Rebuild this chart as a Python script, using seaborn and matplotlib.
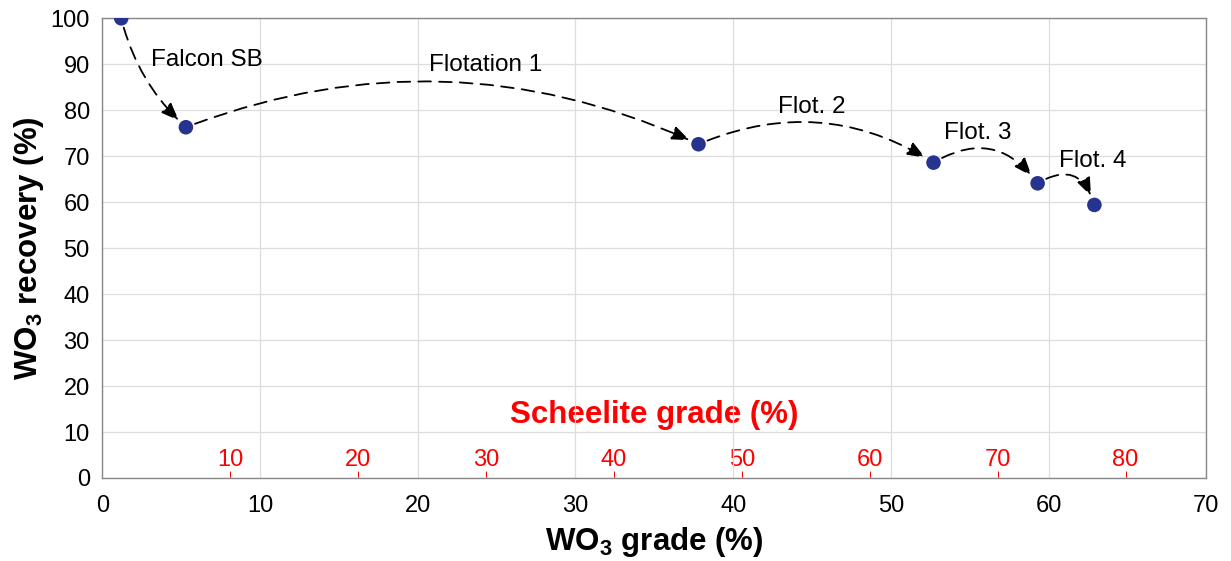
import matplotlib
matplotlib.use("Agg")
import matplotlib.pyplot as plt
import pandas as pd
import seaborn as sns

# values
stages = ["Feed", "Falcon SB", "Flotation 1", "Flot. 2", "Flot. 3", "Flot. 4"]
wo3_grade = [1.2, 5.3, 37.8, 52.7, 59.3, 62.9]
wo3_recovery = [100.0, 76.3, 72.6, 68.6, 64.1, 59.4]
scheelite_ticks = [10, 20, 30, 40, 50, 60, 70, 80]
wo3_in_scheelite = 0.811  # WO3 fraction used for the scheelite scale

df = pd.DataFrame({"stage": stages, "grade": wo3_grade, "recovery": wo3_recovery})

# text placement and arrow curvature for each step
label_xy = [(6.6, 91.0), (24.3, 89.8), (45.0, 80.7), (55.5, 75.0), (62.8, 69.0)]
arc_rad = [0.15, -0.21, -0.26, -0.45, -0.63]

sns.set_theme(style="whitegrid")
plt.rcParams["font.family"] = ["Liberation Sans", "DejaVu Sans"]
plt.rcParams["mathtext.fontset"] = "custom"
plt.rcParams["mathtext.rm"] = "Liberation Sans"
plt.rcParams["mathtext.bf"] = "Liberation Sans:bold"
plt.rcParams["text.color"] = "black"
plt.rcParams["axes.labelcolor"] = "black"

fig = plt.figure(figsize=(12.31, 5.61), dpi=100)
ax = fig.add_axes([0.0831, 0.148, 0.8969, 0.8194])

# dashed curved arrows between stages
for i in range(1, len(df)):
    ax.annotate("", xy=(df.grade[i], df.recovery[i]),
                xytext=(df.grade[i - 1], df.recovery[i - 1]),
                arrowprops=dict(arrowstyle="-|>,head_length=0.9,head_width=0.35",
                                connectionstyle=f"arc3,rad={arc_rad[i-1]}",
                                color="black", lw=1.3, linestyle=(0, (7, 4.5)),
                                shrinkA=7, shrinkB=7),
                zorder=2)
    ax.text(label_xy[i - 1][0], label_xy[i - 1][1], df.stage[i],
            fontsize=17.5, ha="center", va="center", zorder=4)

sns.scatterplot(data=df, x="grade", y="recovery", ax=ax, s=110,
                color="#263490", edgecolor="none", zorder=3, legend=False)

ax.set_xlim(0, 70)
ax.set_ylim(0, 100)
ax.set_xticks(range(0, 71, 10))
ax.set_yticks(range(0, 101, 10))
ax.grid(True, color="#dddddd", lw=0.9)
for sp in ax.spines.values():
    sp.set_color("#888888")
    sp.set_linewidth(1.0)
ax.tick_params(axis="both", direction="out", length=6, width=1.0, color="#666666",
               labelcolor="black")
ax.tick_params(axis="x", labelsize=17, pad=6)
ax.tick_params(axis="y", labelsize=17, pad=3)

ax.set_xlabel(r"WO$_\mathbf{3}$ grade (%)", fontsize=22.5, fontweight="bold", labelpad=6)
ax.set_ylabel(r"WO$_\mathbf{3}$ recovery (%)", fontsize=22.5, fontweight="bold", labelpad=3)

# scheelite grade scale drawn just above the x axis
sax = ax.secondary_xaxis(0.0, functions=(lambda x: x / wo3_in_scheelite,
                                         lambda s: s * wo3_in_scheelite))
sax.set_alignment("top")
sax.set_xticks(scheelite_ticks)
sax.tick_params(axis="x", direction="out", length=5, width=0.7, colors="red",
                labelsize=17, pad=0)
for sp in sax.spines.values():
    sp.set_visible(False)
sax.set_xlabel("Scheelite grade (%)", color="red", fontsize=22.5, fontweight="bold",
               labelpad=19)

fig.savefig("out.png", dpi=100)
